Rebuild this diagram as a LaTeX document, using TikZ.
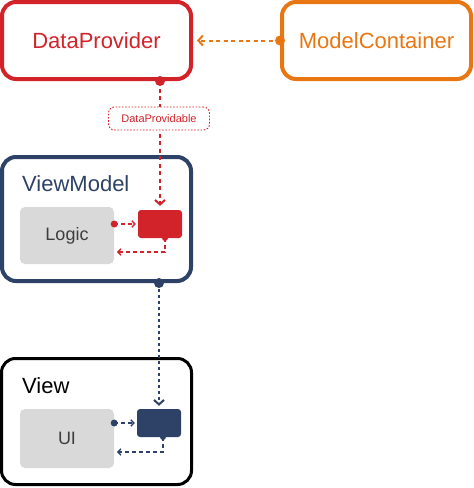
\documentclass[tikz,border=0pt]{standalone}
\usepackage{fontspec}
\setmainfont{Liberation Sans}
\usetikzlibrary{arrows.meta}

\definecolor{dpred}{RGB}{211,35,42}
\definecolor{mcorange}{RGB}{232,118,18}
\definecolor{vmnavy}{RGB}{45,66,102}
\definecolor{boxgray}{RGB}{217,217,217}
\definecolor{textgray}{RGB}{62,62,62}

\begin{document}
\begin{tikzpicture}[x=1pt, y=-1pt,
  bigbox/.style={draw, line width=4pt, rounded corners=14pt, minimum width=189pt,
    inner sep=0pt, font=\fontsize{22}{26}\selectfont},
  graybox/.style={fill=boxgray, rounded corners=5pt, minimum width=94pt, inner sep=0pt,
    text=textgray, font=\fontsize{18}{22}\selectfont},
  port/.style={rounded corners=3pt, minimum width=44pt, minimum height=28pt, inner sep=0pt},
  title/.style={anchor=west, inner sep=0pt, font=\fontsize{22}{26}\selectfont},
  link/.style={line width=2pt, dash pattern=on 4pt off 3.5pt,
    -{Straight Barb[length=4.5pt,width=10pt]}},
  inlink/.style={line width=1.4pt, dash pattern=on 4pt off 3pt,
    -{Straight Barb[length=3pt,width=6.5pt]}},
  tag/.style={draw, line width=0.9pt, dash pattern=on 1.6pt off 1.6pt, rounded corners=6pt,
    fill=white, minimum width=101pt, minimum height=23pt, inner sep=0pt,
    font=\fontsize{11}{13}\selectfont}]

\useasboundingbox (0,0) rectangle (474,488);

\node[bigbox, draw=dpred, text=dpred, minimum height=77pt] (provider) at (96.5,40.5) {DataProvider};
\node[bigbox, draw=mcorange, text=mcorange, minimum height=77pt] (container) at (376.5,40.5) {ModelContainer};

\node[bigbox, draw=vmnavy, minimum height=124pt] (viewmodel) at (96.5,219) {};
\node[title, text=vmnavy] (vmtitle) at (22,184) {ViewModel};
\node[graybox, minimum height=57pt] (logic) at (67,235.5) {Logic};
\node[port, fill=dpred] (vmport) at (160,224) {};

\node[bigbox, draw=black, line width=3pt, minimum width=190pt, minimum height=126pt] (view) at (96.5,421.5) {};
\node[title, text=black] (viewtitle) at (22,386) {View};
\node[graybox, minimum height=59pt] (ui) at (67,438.5) {UI};
\node[port, fill=vmnavy] (vport) at (159,423) {};

\draw[link, mcorange, shorten >=4pt] (container.west) -- (provider.east);
\fill[mcorange] (container.west) circle (5pt);

\draw[link, dpred, shorten >=4pt] (vmport |- provider.south) -- (vmport.north);
\fill[dpred] (vmport |- provider.south) circle (5pt);
\node[tag, draw=dpred, text=dpred] (provname) at (159,118.5) {DataProvidable};

\draw[link, vmnavy, dash pattern=on 3pt off 3pt, shorten >=3pt] (vport |- viewmodel.south) -- (vport.north);
\fill[vmnavy] (vport |- viewmodel.south) circle (5pt);

\coordinate (vmout) at (165,238);
\coordinate (vmback) at (114,252);
\draw[inlink, dpred, shorten >=2pt] (logic.east |- vmport) -- (vmport.west);
\fill[dpred] (logic.east |- vmport) circle (3.5pt);
\draw[inlink, dpred, shorten >=3pt] (vmout) |- (vmback);
\fill[dpred] (vmout) circle (3pt);

\coordinate (vout) at (163,437);
\coordinate (vback) at (114,452);
\draw[inlink, vmnavy, shorten >=2pt] (ui.east |- vport) -- (vport.west);
\fill[vmnavy] (ui.east |- vport) circle (3.5pt);
\draw[inlink, vmnavy, shorten >=3pt] (vout) |- (vback);
\fill[vmnavy] (vout) circle (3pt);

\end{tikzpicture}
\end{document}
